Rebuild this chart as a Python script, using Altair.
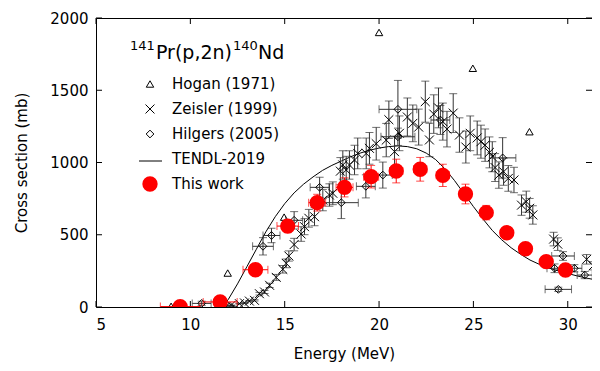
import altair as alt
import pandas as pd

FONT = "DejaVu Sans"

# ---- axis ticks ----
x_ticks = [5, 10, 15, 20, 25, 30]
y_ticks = [0, 500, 1000, 1500, 2000]

# ---- TENDL-2019 ----
tendl_E = [11.7, 12.0, 12.5, 13.0, 13.5, 14.0, 14.5, 15.0, 15.5, 16.0, 16.5, 17.0, 17.5,
           18.0, 18.5, 19.0, 19.5, 20.0, 20.5, 21.0, 21.5, 22.0, 22.5, 23.0, 23.5, 24.0,
           24.5, 25.0, 25.5, 26.0, 26.5, 27.0, 27.5, 28.0, 28.5, 29.0, 29.5, 30.0, 30.5,
           31.0, 31.7]
tendl_s = [0, 50, 160, 280, 400, 520, 625, 715, 790, 850, 900, 945, 980,
           1010, 1040, 1065, 1085, 1100, 1110, 1115, 1110, 1095, 1065, 1020, 955, 875,
           785, 695, 610, 530, 465, 410, 365, 325, 295, 270, 250, 232, 215,
           200, 182]

# ---- This work ----
tw_E = [9.46, 11.58, 13.45, 15.16, 16.72, 18.17, 19.58, 20.91, 22.18, 23.38, 24.58,
        25.68, 26.77, 27.76, 28.86, 29.88]
tw_s = [3, 35, 258, 560, 722, 828, 902, 941, 953, 911, 782, 653, 514, 403, 314, 256]
tw_dE = [1.05, 0.9, 0.66, 0.57, 0.45, 0.45, 0.4, 0.35, 0.35, 0.35, 0.3, 0.3, 0.3, 0.3,
         0.3, 0.3]
tw_ds = [3, 8, 25, 45, 58, 66, 78, 82, 82, 77, 68, 50, 40, 32, 25, 20]

# ---- Zeisler (1999) ----
ze_E = [12.16, 12.6, 12.87, 13.13, 13.4, 13.66, 13.93, 14.2, 14.55, 14.9, 15.08, 15.22,
        15.5, 15.87, 16.05, 16.28, 16.58, 17.02, 17.37, 17.55, 17.95, 18.08, 18.26, 18.43,
        18.7, 18.87, 19.32, 19.49, 19.85, 20.38, 20.52, 20.82, 21.08, 21.5, 21.79, 22.1,
        22.45, 22.67, 22.9, 23.15, 23.38, 23.6, 23.93, 24.26, 24.6, 24.83, 25.2, 25.4,
        25.62, 25.85, 26.0, 26.15, 26.35, 26.6, 26.85, 27.15, 27.55, 27.8, 27.98, 28.15,
        29.25, 29.47, 31.0, 31.35, 31.6]
ze_s = [12, 23, 28, 41, 46, 92, 104, 150, 205, 261, 302, 353,
        432, 505, 556, 614, 625, 740, 775, 787, 940, 983, 948, 983,
        1017, 1063, 1063, 1098, 1130, 1155, 1296, 1075, 1202, 1315, 1271, 1245,
        1421, 1156, 1335, 1378, 1283, 1231, 1342, 1190, 1107, 1202, 1170, 1144,
        1120, 1070, 1040, 965, 913, 936, 890, 879, 705, 729, 683, 637,
        470, 435, 330, 285, 279]
ze_rel_err = 0.1

# ---- Hilgers (2005) ----
hi_E = [10.6, 12.1, 13.85, 14.3, 15.5, 16.85, 18.0, 19.3, 20.2, 21.0, 21.0, 23.25, 26.55,
        29.3, 29.5, 29.75, 30.35, 30.9]
hi_s = [25, 5, 420, 495, 600, 828, 722, 835, 913, 1368, 1178, 1294, 1032,
        268, 122, 353, 268, 221]
hi_dE = [0.5, 0.4, 0.55, 0.45, 0.45, 0.5, 0.9, 0.5, 0.5, 1.0, 0.9, 0.5, 0.7,
         0.4, 0.7, 0.6, 0.4, 0.4]
hi_ds = [15, 5, 60, 50, 60, 70, 110, 80, 90, 200, 60, 100, 140, 30, 15, 30, 25, 25]

# ---- Hogan (1971) ----
ho_E = [8.98, 11.98, 14.97, 20.0, 24.97, 27.97]
ho_s = [5, 235, 622, 1900, 1652, 1213]

# title pieces: (text, superscript?)
title_parts = [("141", True), ("Pr(p,2n)", False), ("140", True), ("Nd", False)]
legend_labels = ["Hogan (1971)", "Zeisler (1999)", "Hilgers (2005)", "TENDL-2019", "This work"]

W, H = 496, 289
xs = alt.Scale(domain=[5, 5 + W / 18.87], nice=False, zero=False)
ys = alt.Scale(domain=[0, 2000], nice=False, zero=False)

axis_common = dict(ticks=False, domain=False, grid=False, labelFont=FONT, titleFont=FONT,
                   labelFontSize=15, titleFontSize=15, titleFontWeight="normal",
                   labelColor="black", titleColor="black", format="d")
XAX = alt.Axis(values=x_ticks, title="Energy (MeV)", labelPadding=10, titlePadding=14, **axis_common)
YAX = alt.Axis(values=y_ticks, title="Cross section (mb)", labelPadding=8, titlePadding=20, **axis_common)


def X(f):
    return alt.X(f, type="quantitative", scale=xs, axis=XAX)


def Y(f):
    return alt.Y(f, type="quantitative", scale=ys, axis=YAX)


ERR = "#333333"
XPATH = "M-1,-1L1,1M-1,1L1,-1"

tendl = pd.DataFrame({"E": tendl_E, "s": tendl_s})
tw = pd.DataFrame({"E": tw_E, "s": tw_s, "dE": tw_dE, "ds": tw_ds})
tw["xlo"], tw["xhi"] = tw.E - tw.dE, tw.E + tw.dE
tw["ylo"], tw["yhi"] = tw.s - tw.ds, tw.s + tw.ds
ze = pd.DataFrame({"E": ze_E, "s": ze_s})
ze["ylo"], ze["yhi"] = ze.s * (1 - ze_rel_err), ze.s * (1 + ze_rel_err)
hi = pd.DataFrame({"E": hi_E, "s": hi_s, "dE": hi_dE, "ds": hi_ds})
hi["xlo"], hi["xhi"] = hi.E - hi.dE, hi.E + hi.dE
hi["ylo"], hi["yhi"] = hi.s - hi.ds, hi.s + hi.ds
ho = pd.DataFrame({"E": ho_E, "s": ho_s})

layers = []

# frame ticks (inward)
xt = pd.DataFrame({"v": x_ticks})
yt = pd.DataFrame({"v": y_ticks})
layers.append(alt.Chart(xt).mark_rule(color="black").encode(x=X("v"), y=alt.value(H), y2=alt.value(H - 6)))
layers.append(alt.Chart(xt).mark_rule(color="black").encode(x=X("v"), y=alt.value(0), y2=alt.value(6)))
layers.append(alt.Chart(yt).mark_rule(color="black").encode(y=Y("v"), x=alt.value(0), x2=alt.value(6)))
layers.append(alt.Chart(yt).mark_rule(color="black").encode(y=Y("v"), x=alt.value(W), x2=alt.value(W - 6)))

# TENDL line
layers.append(alt.Chart(tendl).mark_line(color="black", strokeWidth=1, clip=True).encode(x=X("E"), y=Y("s")))


def vbars(df, color, cap=8):
    r = alt.Chart(df).mark_rule(color=color, strokeWidth=1, clip=True).encode(x=X("E"), y=Y("ylo"), y2=alt.Y2("yhi"))
    t1 = alt.Chart(df).mark_tick(color=color, orient="horizontal", size=cap, thickness=1, clip=True).encode(x=X("E"), y=Y("ylo"))
    t2 = alt.Chart(df).mark_tick(color=color, orient="horizontal", size=cap, thickness=1, clip=True).encode(x=X("E"), y=Y("yhi"))
    return [r, t1, t2]


def hbars(df, color, cap=8):
    r = alt.Chart(df).mark_rule(color=color, strokeWidth=1, clip=True).encode(y=Y("s"), x=X("xlo"), x2=alt.X2("xhi"))
    t1 = alt.Chart(df).mark_tick(color=color, orient="vertical", size=cap, thickness=1, clip=True).encode(y=Y("s"), x=X("xlo"))
    t2 = alt.Chart(df).mark_tick(color=color, orient="vertical", size=cap, thickness=1, clip=True).encode(y=Y("s"), x=X("xhi"))
    return [r, t1, t2]


# Zeisler
layers += vbars(ze, ERR)
layers.append(alt.Chart(ze).mark_point(shape=XPATH, size=80, filled=False, color="black", strokeWidth=1, opacity=1, clip=True).encode(x=X("E"), y=Y("s")))
# Hilgers
layers += vbars(hi, ERR)
layers += hbars(hi, ERR)
layers.append(alt.Chart(hi).mark_point(shape="diamond", size=60, filled=False, color="black", strokeWidth=1, opacity=1, clip=True).encode(x=X("E"), y=Y("s")))
# Hogan
layers.append(alt.Chart(ho).mark_point(shape="triangle-up", size=55, filled=False, color="black", strokeWidth=1, opacity=1, clip=True).encode(x=X("E"), y=Y("s")))
# This work
layers += vbars(tw, "red")
layers += hbars(tw, "red")
layers.append(alt.Chart(tw).mark_circle(size=235, color="red", opacity=1, clip=True).encode(x=X("E"), y=Y("s")))

# ---- manual legend (pixel layout inside plot area) ----
one = pd.DataFrame({"a": [0]})
title_x = [34, 60, 137, 162]
for (txt, sup), tx in zip(title_parts, title_x):
    layers.append(alt.Chart(one).mark_text(align="left", baseline="alphabetic", font=FONT,
                                           fontSize=13 if sup else 19, color="black").encode(
        x=alt.value(tx), y=alt.value(32 if sup else 41), text=alt.value(txt)))

row_y = [66, 91, 116, 141, 166]
for lab, yy in zip(legend_labels, row_y):
    layers.append(alt.Chart(one).mark_text(align="left", baseline="middle", font=FONT, fontSize=15, color="black").encode(
        x=alt.value(76), y=alt.value(yy), text=alt.value(lab)))
sx = 54
layers.append(alt.Chart(one).mark_point(shape="triangle-up", size=55, filled=False, color="black", strokeWidth=1, opacity=1).encode(x=alt.value(sx), y=alt.value(row_y[0])))
layers.append(alt.Chart(one).mark_point(shape=XPATH, size=80, filled=False, color="black", strokeWidth=1, opacity=1).encode(x=alt.value(sx), y=alt.value(row_y[1])))
layers.append(alt.Chart(one).mark_point(shape="diamond", size=60, filled=False, color="black", strokeWidth=1, opacity=1).encode(x=alt.value(sx), y=alt.value(row_y[2])))
layers.append(alt.Chart(one).mark_rule(color="black", strokeWidth=1).encode(x=alt.value(43), x2=alt.value(66), y=alt.value(row_y[3] + 2)))
layers.append(alt.Chart(one).mark_circle(size=235, color="red", opacity=1).encode(x=alt.value(sx), y=alt.value(row_y[4])))

chart = alt.layer(*layers).properties(
    width=W, height=H,
    autosize=alt.AutoSizeParams(type="none"),
    padding={"left": 88, "top": 10, "right": 0, "bottom": 56},
    background="white",
).configure_view(stroke="black", strokeWidth=1)

chart.save("out.html", embed_options={"renderer": "svg", "actions": False})
